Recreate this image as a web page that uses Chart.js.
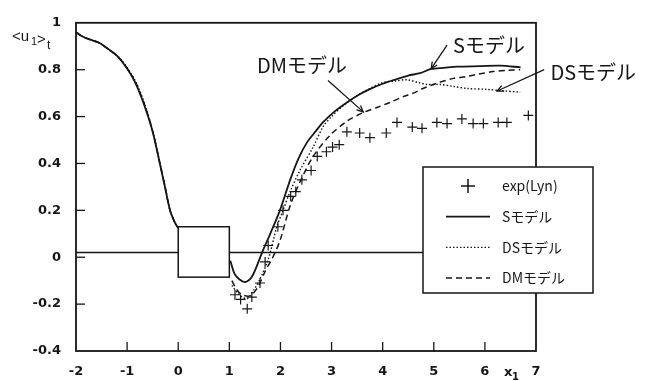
<!DOCTYPE html>
<html>
<head>
<meta charset="utf-8">
<script src="https://cdn.jsdelivr.net/npm/chart.js@4/dist/chart.umd.min.js"></script>
<style>
  html, body { margin: 0; padding: 0; background: #fff; }
</style>
</head>
<body>
<canvas id="chart" width="657" height="381"></canvas>
<script>
// valeurs
const sX  = [-2, -1.9, -1.75, -1.55, -1.35, -1.2, -1.05, -0.9, -0.8, -0.65, -0.5, -0.36, -0.25, -0.16, -0.06, 0, null,
             1.02, 1.1, 1.2, 1.31, 1.45, 1.64, 1.8, 1.99, 2.19, 2.35, 2.52, 2.7, 2.83, 3.05, 3.3, 3.55, 3.75, 4.0, 4.28, 4.5, 4.73, 4.95, 5.2, 5.46, 5.9, 6.3, 6.7];
const sY  = [0.96, 0.945, 0.93, 0.915, 0.885, 0.86, 0.82, 0.77, 0.725, 0.64, 0.535, 0.40, 0.29, 0.2, 0.145, 0.125, null,
             -0.015, -0.07, -0.095, -0.106, -0.08, 0.02, 0.1, 0.2, 0.33, 0.42, 0.49, 0.54, 0.575, 0.62, 0.66, 0.695, 0.717, 0.74, 0.76, 0.775, 0.785, 0.803, 0.808, 0.813, 0.815, 0.817, 0.81];

const dsX = [-2, -1.9, -1.75, -1.55, -1.35, -1.2, -1.05, -0.9, -0.8, -0.65, -0.5, -0.36, -0.25, -0.16, -0.06, 0, null,
             1.05, 1.15, 1.25, 1.35, 1.48, 1.6, 1.76, 1.93, 2.05, 2.19, 2.38, 2.64, 2.83, 3.0, 3.25, 3.5, 3.75, 4.0, 4.25, 4.48, 4.7, 4.87, 5.12, 5.4, 5.65, 6.04, 6.35, 6.69];
const dsY = [0.96, 0.945, 0.93, 0.915, 0.885, 0.86, 0.825, 0.775, 0.735, 0.65, 0.54, 0.405, 0.295, 0.2, 0.145, 0.125, null,
             -0.12, -0.15, -0.17, -0.177, -0.14, -0.093, -0.01, 0.13, 0.2, 0.28, 0.37, 0.47, 0.555, 0.6, 0.65, 0.69, 0.72, 0.745, 0.752, 0.757, 0.745, 0.737, 0.737, 0.728, 0.72, 0.716, 0.71, 0.704];

const dmX = [-2, -1.9, -1.75, -1.55, -1.35, -1.2, -1.05, -0.9, -0.8, -0.65, -0.5, -0.36, -0.25, -0.16, -0.06, 0, null,
             1.05, 1.15, 1.25, 1.4, 1.55, 1.7, 1.85, 1.99, 2.19, 2.38, 2.64, 2.97, 3.3, 3.62, 3.9, 4.14, 4.4, 4.6, 4.79, 5.06, 5.38, 5.65, 5.85, 6.16, 6.45, 6.69];
const dmY = [0.96, 0.945, 0.93, 0.915, 0.885, 0.86, 0.822, 0.772, 0.73, 0.645, 0.538, 0.402, 0.292, 0.2, 0.145, 0.125, null,
             -0.10, -0.14, -0.16, -0.165, -0.13, -0.06, 0.0, 0.07, 0.22, 0.32, 0.43, 0.52, 0.58, 0.617, 0.64, 0.66, 0.685, 0.70, 0.72, 0.742, 0.763, 0.771, 0.78, 0.792, 0.797, 0.80];

const expX = [1.11, 1.22, 1.35, 1.44, 1.6, 1.7, 1.76, 1.95, 2.05, 2.2, 2.3, 2.42, 2.6, 2.72, 2.9, 3.02, 3.15, 3.3, 3.55, 3.75,
              4.07, 4.28, 4.58, 4.77, 5.06, 5.26, 5.55, 5.77, 5.97, 6.26, 6.43, 6.85];
const expY = [-0.16, -0.18, -0.22, -0.17, -0.11, -0.02, 0.05, 0.13, 0.2, 0.26, 0.28, 0.33, 0.37, 0.43, 0.45, 0.47, 0.48, 0.535, 0.53, 0.51,
              0.53, 0.575, 0.555, 0.55, 0.575, 0.57, 0.59, 0.57, 0.57, 0.575, 0.575, 0.605];

const refLineY = 0.02;           // ligne horizontale
const boxX = [0, 1];             // rectangle (obstacle)
const boxY = [-0.085, 0.13];

const xTickLabels = ['-2', '-1', '0', '1', '2', '3', '4', '5', '6', '7'];
const yTickLabels = ['-0.4', '-0.2', '0', '0.2', '0.4', '0.6', '0.8', '1'];

// étiquettes avec flèche : [texte, x texte, y texte, x départ, y départ, x pointe, y pointe]
const callouts = [
  ['Sモデル',  6.08, 0.905, 5.26, 0.905, 4.95, 0.805],
  ['DSモデル', 8.12, 0.788, 7.16, 0.80, 6.24, 0.709],
  ['DMモデル', 2.42, 0.817, 2.93, 0.754, 3.62, 0.62]
];

const toPts = (xs, ys) => xs.map((v, i) => ({ x: v, y: ys[i] }));
const INK = '#161616';
const NUM_FAMILY = '"DejaVu Sans", "Liberation Sans", Arial, sans-serif';
const LAT_FONT = '"Liberation Sans", Arial, sans-serif';
const JP_FONT = '"Noto Sans CJK JP", "Noto Sans", sans-serif';

const paperPlugin = {
  id: 'paper',
  afterDatasetsDraw(chart) {
    const { ctx, chartArea: a, scales: { x, y } } = chart;
    ctx.save();
    ctx.strokeStyle = INK;
    ctx.fillStyle = INK;
    ctx.setLineDash([]);

    // rectangle blanc
    const rx0 = x.getPixelForValue(boxX[0]), rx1 = x.getPixelForValue(boxX[1]);
    const ry0 = y.getPixelForValue(boxY[1]), ry1 = y.getPixelForValue(boxY[0]);
    ctx.fillStyle = '#fff';
    ctx.fillRect(rx0, ry0, rx1 - rx0, ry1 - ry0);
    ctx.lineWidth = 1.5;
    ctx.strokeRect(rx0, ry0, rx1 - rx0, ry1 - ry0);

    // cadre
    ctx.lineWidth = 1.8;
    ctx.strokeRect(a.left, a.top, a.right - a.left, a.bottom - a.top);

    // graduations vers l'intérieur
    ctx.lineWidth = 1.3;
    x.ticks.forEach(t => {
      if (t.value <= x.min || t.value >= x.max) return;
      const px = x.getPixelForValue(t.value);
      ctx.beginPath(); ctx.moveTo(px, a.bottom); ctx.lineTo(px, a.bottom - 9); ctx.stroke();
    });
    y.ticks.forEach(t => {
      if (t.value <= y.min || t.value >= y.max) return;
      const py = y.getPixelForValue(t.value);
      ctx.beginPath(); ctx.moveTo(a.left, py); ctx.lineTo(a.left + 9, py); ctx.stroke();
    });

    // titres des axes
    ctx.fillStyle = INK;
    ctx.textBaseline = 'alphabetic';
    ctx.textAlign = 'left';
    ctx.font = '15px ' + LAT_FONT;
    ctx.fillText('<u', 12, 41);
    ctx.font = '11px ' + LAT_FONT;
    ctx.fillText('1', 31, 45);
    ctx.font = '15px ' + LAT_FONT;
    ctx.fillText('>', 37, 44);
    ctx.font = '12px ' + LAT_FONT;
    ctx.fillText('t', 47, 49);

    const xl = x.getPixelForValue(6.47);
    ctx.font = 'bold 13px ' + NUM_FAMILY;
    ctx.fillText('x', xl - 5, 376);
    ctx.font = 'bold 10px ' + NUM_FAMILY;
    ctx.fillText('1', xl + 3, 380);

    // légende
    const lx = a.right - 113, ly = 167, lw = 170, lh = 126;
    ctx.fillStyle = '#fff';
    ctx.fillRect(lx, ly, lw, lh);
    ctx.lineWidth = 1.5;
    ctx.strokeRect(lx, ly, lw, lh);
    const items = chart.data.datasets.filter(d => d.inLegend);
    items.forEach((d, i) => {
      const cy = ly + 19 + i * 30.7;
      ctx.strokeStyle = INK;
      if (d.showLine === false) {
        ctx.lineWidth = 1.5;
        ctx.setLineDash([]);
        ctx.beginPath();
        ctx.moveTo(lx + 38, cy); ctx.lineTo(lx + 52, cy);
        ctx.moveTo(lx + 45, cy - 7); ctx.lineTo(lx + 45, cy + 7);
        ctx.stroke();
      } else {
        ctx.lineWidth = d.borderWidth;
        ctx.setLineDash(d.borderDash || []);
        ctx.beginPath();
        ctx.moveTo(lx + 23, cy); ctx.lineTo(lx + 67, cy);
        ctx.stroke();
      }
      ctx.setLineDash([]);
      ctx.fillStyle = INK;
      ctx.font = '14px ' + JP_FONT;
      ctx.textBaseline = 'middle';
      ctx.fillText(d.label, lx + 79, cy);
    });

    // étiquettes fléchées
    ctx.font = '20px ' + JP_FONT;
    ctx.textAlign = 'center';
    ctx.textBaseline = 'middle';
    ctx.lineWidth = 1.3;
    callouts.forEach(([txt, tx, ty, sx, sy, px, py]) => {
      ctx.fillText(txt, x.getPixelForValue(tx), y.getPixelForValue(ty));
      const x0 = x.getPixelForValue(sx), y0 = y.getPixelForValue(sy);
      const x1 = x.getPixelForValue(px), y1 = y.getPixelForValue(py);
      ctx.beginPath(); ctx.moveTo(x0, y0); ctx.lineTo(x1, y1); ctx.stroke();
      const ang = Math.atan2(y1 - y0, x1 - x0);
      ctx.beginPath();
      ctx.moveTo(x1 - 7 * Math.cos(ang - 0.45), y1 - 7 * Math.sin(ang - 0.45));
      ctx.lineTo(x1, y1);
      ctx.lineTo(x1 - 7 * Math.cos(ang + 0.45), y1 - 7 * Math.sin(ang + 0.45));
      ctx.stroke();
    });
    ctx.restore();
  }
};

new Chart(document.getElementById('chart'), {
  type: 'line',
  data: {
    datasets: [
      {
        label: 'ref',
        data: toPts([-2, 7], [refLineY, refLineY]),
        borderColor: INK, borderWidth: 1.4, pointRadius: 0, order: 5
      },
      {
        label: 'exp(Lyn)', inLegend: true,
        data: toPts(expX, expY),
        showLine: false, pointStyle: 'cross', pointRadius: 5, pointBorderWidth: 1.2,
        borderColor: INK, backgroundColor: INK
      },
      {
        label: 'Sモデル', inLegend: true,
        data: toPts(sX, sY),
        borderColor: INK, borderWidth: 1.8, pointRadius: 0, tension: 0.3, spanGaps: false
      },
      {
        label: 'DSモデル', inLegend: true,
        data: toPts(dsX, dsY),
        borderColor: INK, borderWidth: 1.4, borderDash: [1.5, 2], pointRadius: 0, tension: 0.3, spanGaps: false
      },
      {
        label: 'DMモデル', inLegend: true,
        data: toPts(dmX, dmY),
        borderColor: INK, borderWidth: 1.5, borderDash: [6, 4], pointRadius: 0, tension: 0.3, spanGaps: false
      }
    ]
  },
  options: {
    responsive: false,
    animation: false,
    layout: { padding: { left: 0, top: 16, right: 121, bottom: 0 } },
    scales: {
      x: {
        type: 'linear', min: -2, max: 7,
        grid: { display: false, drawTicks: false },
        border: { display: false },
        afterFit(scale) { scale.height = 30; },
        ticks: {
          stepSize: 1, padding: 13, color: INK, font: { weight: 'bold', size: 13, family: NUM_FAMILY },
          maxRotation: 0, autoSkip: false,
          callback: (v, i) => xTickLabels[i]
        }
      },
      y: {
        type: 'linear', min: -0.4, max: 1,
        grid: { display: false, drawTicks: false },
        border: { display: false },
        afterFit(scale) { scale.width = 76; },
        ticks: {
          stepSize: 0.2, padding: 15, color: INK, font: { weight: 'bold', size: 13, family: NUM_FAMILY },
          autoSkip: false,
          callback: (v, i) => yTickLabels[i]
        }
      }
    },
    plugins: {
      legend: { display: false },
      tooltip: { enabled: false }
    }
  },
  plugins: [paperPlugin]
});
</script>
</body>
</html>
